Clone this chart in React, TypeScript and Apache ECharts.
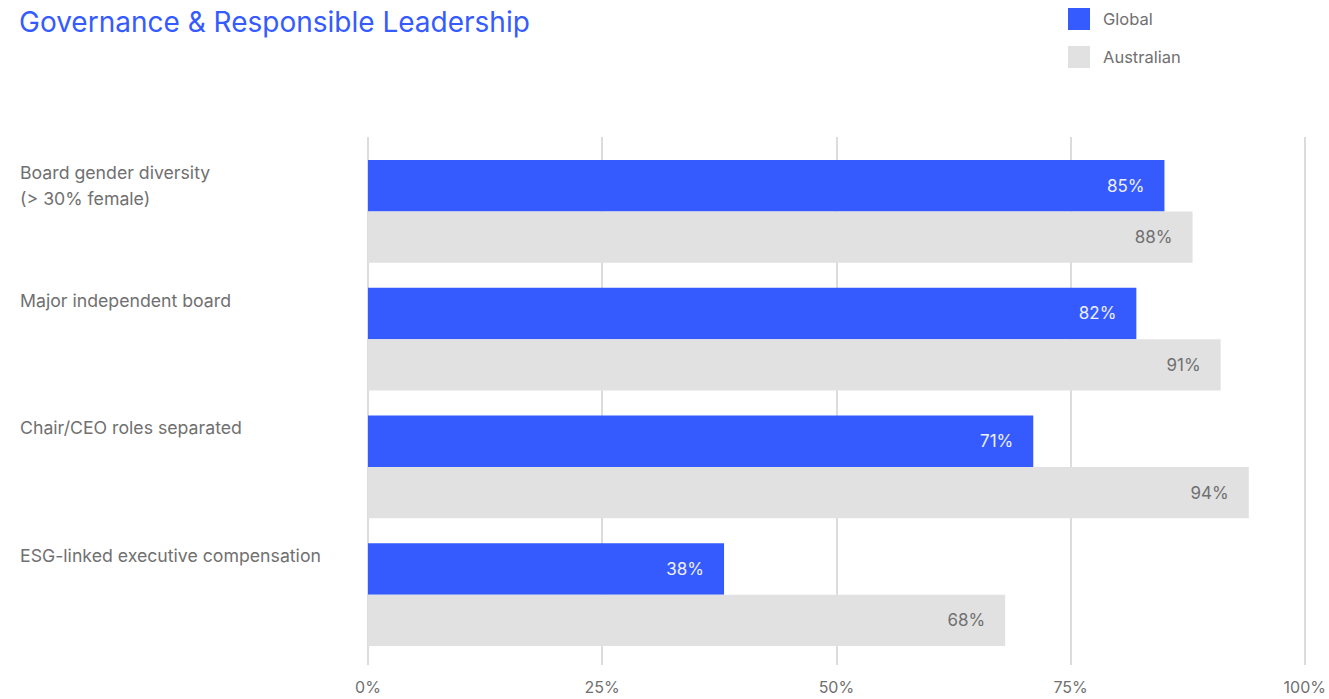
import React, { useEffect, useRef } from "react";
import * as echarts from "echarts";

const categories = [
  "Board gender diversity\n(> 30% female)",
  "Major independent board",
  "Chair/CEO roles separated",
  "ESG-linked executive compensation",
];
const globalValues = [85, 82, 71, 38];
const australianValues = [88, 91, 94, 68];
const xTicks = [0, 25, 50, 75, 100];

const FONT = "Inter, 'Noto Sans', sans-serif";
const BLUE = "#355bff";
const GREY_BAR = "#e1e1e1";
const TEXT = "#707070";

export default function App() {
  const ref = useRef<HTMLDivElement>(null);
  useEffect(() => {
    if (!ref.current) return;
    const chart = echarts.init(ref.current, undefined, { renderer: "svg" });
    chart.setOption({
      animation: false,
      textStyle: { fontFamily: FONT },
      title: {
        text: "Governance & Responsible Leadership",
        left: 14,
        top: 3,
        textStyle: { color: BLUE, fontSize: 28, fontWeight: "normal", fontFamily: FONT },
      },
      legend: {
        orient: "vertical",
        left: 1063,
        top: 3,
        itemWidth: 22,
        itemHeight: 22,
        itemGap: 16,
        icon: "rect",
        textStyle: { color: TEXT, fontSize: 16.5, fontFamily: FONT, padding: [0, 0, 0, 8] },
        data: ["Global", "Australian"],
      },
      grid: [
        { left: 368, right: 24, top: 137, bottom: 34 },
        { left: 368, right: 24, top: 147.5, bottom: 40.5 },
      ],
      xAxis: [
        {
          gridIndex: 0,
          type: "value",
          min: 0,
          max: 100,
          interval: 25,
          axisLine: { show: false },
          axisTick: { show: false },
          splitLine: { show: true, lineStyle: { color: "#dcdcdc", width: 2 } },
          axisLabel: {
            color: TEXT,
            fontSize: 16,
            fontFamily: FONT,
            margin: 14,
            formatter: (v: number) => (xTicks.includes(v) ? v + "%" : ""),
          },
        },
        {
          gridIndex: 1,
          type: "value",
          min: 0,
          max: 100,
          show: false,
        },
      ],
      yAxis: [
        {
          gridIndex: 0,
          type: "category",
          data: categories,
          show: false,
        },
        {
          gridIndex: 1,
          type: "category",
          data: categories,
          inverse: true,
          axisLine: { show: false },
          axisTick: { show: false },
          splitLine: { show: false },
          axisLabel: {
            align: "left",
            verticalAlign: "bottom",
            margin: 348,
            color: TEXT,
            fontSize: 17.7,
            lineHeight: 26,
            fontFamily: FONT,
            formatter: (v: string) => (v.includes("\n") ? v : v + "\n "),
          },
        },
      ],
      series: [
        {
          name: "Global",
          type: "bar",
          xAxisIndex: 1,
          yAxisIndex: 1,
          data: globalValues,
          barGap: "0%",
          barCategoryGap: "19.6%",
          itemStyle: { color: BLUE },
          label: {
            show: true,
            position: "insideRight",
            distance: 20,
            color: "#eef0ff",
            fontSize: 17,
            fontFamily: FONT,
            formatter: "{c}%",
          },
        },
        {
          name: "Australian",
          type: "bar",
          xAxisIndex: 1,
          yAxisIndex: 1,
          data: australianValues,
          barGap: "0%",
          barCategoryGap: "19.6%",
          itemStyle: { color: GREY_BAR },
          label: {
            show: true,
            position: "insideRight",
            distance: 20,
            color: TEXT,
            fontSize: 17,
            fontFamily: FONT,
            formatter: "{c}%",
          },
        },
      ],
    });
    return () => chart.dispose();
  }, []);
  return (
    <div
      ref={ref}
      style={{ position: "fixed", left: 0, top: 0, width: 1329, height: 699, background: "#fff" }}
    />
  );
}
